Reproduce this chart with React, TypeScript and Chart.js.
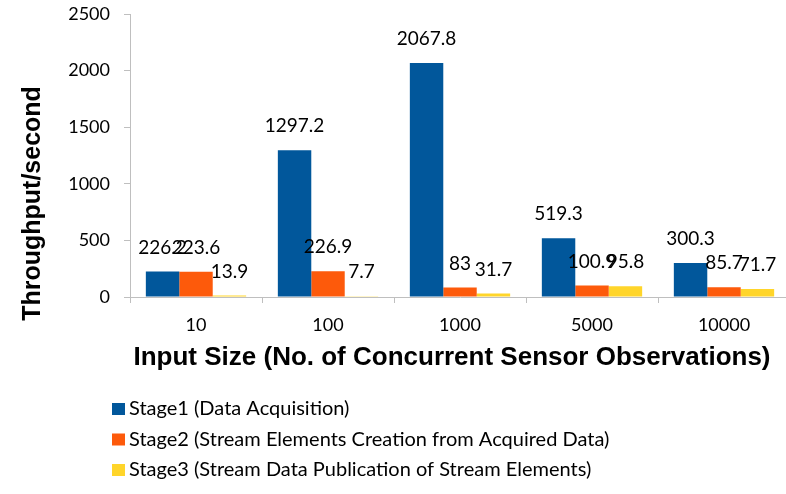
import React, { useEffect, useRef } from "react";
import { Chart, registerables } from "chart.js";

Chart.register(...registerables);

const categories = ["10", "100", "1000", "5000", "10000"];
const stage1 = [226.2, 1297.2, 2067.8, 519.3, 300.3];
const stage2 = [223.6, 226.9, 83, 100.9, 85.7];
const stage3 = [13.9, 7.7, 31.7, 95.8, 71.7];
const seriesNames = [
  "Stage1 (Data Acquisition)",
  "Stage2 (Stream Elements Creation from Acquired Data)",
  "Stage3 (Stream Data Publication of Stream Elements)",
];
const seriesColors = ["#01579B", "#FD5A0B", "#FFD52A"];
const yTitle = "Throughput/second";
const xTitle = "Input Size (No. of Concurrent Sensor Observations)";

const LABEL_FONT = "19px Lato";
const TITLE_FONT = "bold 25px 'Liberation Sans', Arial";
const AXIS_COLOR = "#BFBFBF";

const dataLabels = {
  id: "dataLabels",
  afterDatasetsDraw(chart: any) {
    const ctx = chart.ctx;
    ctx.save();
    ctx.font = LABEL_FONT;
    ctx.fillStyle = "#000";
    ctx.textAlign = "center";
    ctx.textBaseline = "middle";
    chart.data.datasets.forEach((ds: any, i: number) => {
      const meta = chart.getDatasetMeta(i);
      meta.data.forEach((el: any, j: number) => {
        ctx.fillText(String(ds.data[j]), el.x, el.y - 24);
      });
    });
    ctx.restore();
  },
};

const extras = {
  id: "extras",
  afterDraw(chart: any) {
    const ctx = chart.ctx;
    const area = chart.chartArea;
    ctx.save();
    ctx.font = TITLE_FONT;
    ctx.fillStyle = "#000";
    ctx.textAlign = "center";
    ctx.textBaseline = "middle";
    // x-axis title
    ctx.font = "bold 26px 'Liberation Sans', Arial";
    ctx.fillText(xTitle, 452, area.bottom + 61);
    // y-axis title
    ctx.font = TITLE_FONT;
    ctx.translate(33, (area.top + area.bottom) / 2 + 48);
    ctx.rotate(-Math.PI / 2);
    ctx.fillText(yTitle, 0, 0);
    ctx.restore();

    // legend (vertical list)
    ctx.save();
    ctx.font = "20px Lato";
    ctx.textBaseline = "middle";
    ctx.textAlign = "left";
    seriesNames.forEach((name, i) => {
      const cy = 409 + i * 30.5;
      ctx.fillStyle = seriesColors[i];
      ctx.fillRect(112, cy - 6, 13, 12);
      ctx.fillStyle = "#000";
      ctx.fillText(name, 129, cy);
    });
    ctx.restore();
  },
};

export default function App() {
  const ref = useRef<HTMLCanvasElement>(null);
  useEffect(() => {
    if (!ref.current) return;
    const chart = new Chart(ref.current, {
      type: "bar",
      data: {
        labels: categories,
        datasets: [stage1, stage2, stage3].map((d, i) => ({
          label: seriesNames[i],
          data: d,
          backgroundColor: seriesColors[i],
          borderWidth: 0,
          barPercentage: 1,
          categoryPercentage: 0.76,
        })),
      },
      options: {
        animation: false,
        responsive: false,
        maintainAspectRatio: false,
        layout: { padding: { left: 58, right: 10, top: 14, bottom: 117 } },
        plugins: {
          legend: { display: false },
          tooltip: { enabled: false },
        },
        scales: {
          x: {
            afterFit: (s: any) => {
              s.height = 80;
              s.paddingLeft = 0;
              s.paddingRight = 0;
            },
            grid: {
              display: true,
              drawOnChartArea: false,
              drawTicks: true,
              tickLength: 6,
              color: AXIS_COLOR,
              offset: true,
            },
            border: { color: AXIS_COLOR, width: 1 },
            ticks: {
              font: { family: "Lato", size: 18 },
              color: "#000",
              padding: 11,
              maxRotation: 0,
            },
          },
          y: {
            min: 0,
            max: 2500,
            afterFit: (s: any) => {
              s.width = 72;
              s.paddingTop = 0;
              s.paddingBottom = 0;
            },
            grid: {
              display: true,
              drawOnChartArea: false,
              drawTicks: true,
              tickLength: 6,
              color: AXIS_COLOR,
            },
            border: { color: AXIS_COLOR, width: 1 },
            ticks: {
              stepSize: 500,
              font: { family: "Lato", size: 18 },
              color: "#000",
              padding: 14,
              callback: (v: any) => String(v),
            },
          },
        },
      },
      plugins: [dataLabels, extras],
    } as any);
    return () => chart.destroy();
  }, []);
  return (
    <div style={{ position: "absolute", left: 0, top: 0, width: 786, height: 494, overflow: "hidden" }}>
      <canvas ref={ref} width={800} height={494} style={{ width: 800, height: 494, display: "block" }} />
    </div>
  );
}
